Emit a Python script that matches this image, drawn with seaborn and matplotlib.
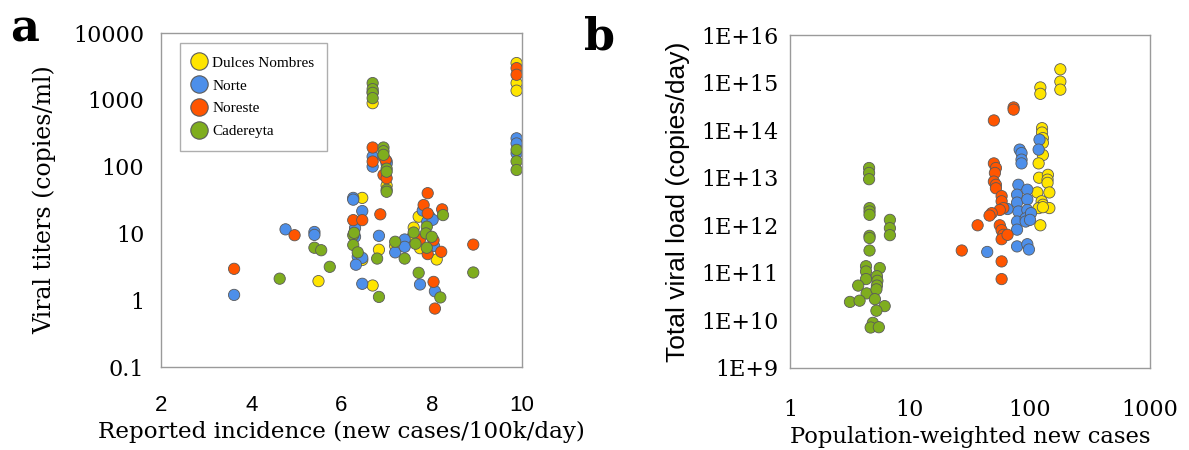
import numpy as np
import pandas as pd
import matplotlib
matplotlib.use("Agg")
import matplotlib.pyplot as plt
import matplotlib.ticker as mticker
import seaborn as sns

# ---------------- data ----------------
sites = ["Dulces Nombres", "Norte", "Noreste", "Cadereyta"]
colors = ["#FFE500", "#4D8FEA", "#FF5500", "#7FAD1E"]

# panel a: reported incidence vs viral titers
a_dn_x = [5.49, 6.46, 6.46, 6.69, 6.83, 6.69, 7.0, 7.19, 7.6, 7.58, 7.71, 7.74, 8.11, 9.88, 9.88, 9.88]
a_dn_y = [1.93, 34, 4.0, 1.66, 5.7, 890, 52, 6.5, 12.2, 9.0, 17.8, 6.0, 4.07, 3550, 1780, 1370]

a_no_x = [3.62, 4.76, 5.40, 5.40, 6.26, 6.26, 6.46, 6.30, 6.30, 6.36, 6.46, 6.32, 6.46, 6.69, 6.69,
          6.83, 7.0, 7.0, 7.19, 7.40, 7.40, 7.8, 7.95, 7.9, 8.02, 7.74, 8.07, 8.05, 9.88, 9.88, 9.88]
a_no_y = [1.2, 11.5, 10.5, 9.5, 34, 32, 21.6, 12, 8.9, 4.5, 4.3, 3.4, 1.76, 141, 100,
          9.2, 120, 110, 5.2, 8.1, 6.3, 22, 17.8, 15, 16, 1.72, 1.36, 6.5, 265, 222, 158]

a_ne_x = [3.62, 4.96, 6.26, 6.46, 6.86, 6.69, 6.69, 6.69, 6.93, 6.98, 6.93, 7.0, 7.82, 7.91, 7.91,
          7.74, 7.91, 8.04, 8.04, 8.07, 8.21, 8.23, 8.92, 9.88, 9.88]
a_ne_y = [2.95, 9.4, 15.8, 15.8, 19.3, 193, 119, 1300, 141, 125, 75, 67, 26.6, 40, 19.9,
          8.1, 4.9, 7.9, 1.88, 0.75, 5.3, 22.9, 6.8, 2980, 2370]

a_ca_x = [4.63, 5.40, 5.55, 5.74, 6.26, 6.28, 6.26, 6.36, 6.83, 6.79, 6.69, 6.69, 6.69, 6.69, 6.93,
          6.93, 6.93, 7.0, 7.0, 7.0, 7.0, 7.19, 7.40, 7.6, 7.64, 7.89, 7.87, 7.89, 8.0, 7.71,
          8.19, 8.25, 8.92, 9.88, 9.88, 9.88]
a_ca_y = [2.1, 6.1, 5.6, 3.16, 9.4, 10.2, 6.7, 5.2, 1.12, 4.2, 1780, 1445, 1270, 1060, 193,
          170, 150, 93, 84, 45, 42, 7.5, 4.2, 10.3, 7.0, 12.6, 10.0, 6.1, 8.9, 2.57,
          1.1, 18.8, 2.6, 178, 120, 89]

# panel b: population-weighted new cases vs total viral load
b_dn_x = [179, 179, 179, 122, 122, 126, 126, 128, 128, 128, 118, 119, 141, 140, 140, 115, 145,
          125, 128, 118, 145, 128, 122]
b_dn_y = [1.9e15, 1.05e15, 7.1e14, 7.9e14, 5.8e14, 1.1e14, 8.9e13, 6.8e13, 5.4e13, 3.0e13, 2.0e13,
          1.0e13, 1.15e13, 9.1e12, 7.8e12, 4.9e12, 4.9e12, 3.2e12, 2.7e12, 2.3e12, 2.3e12, 2.4e12, 1.0e12]

b_no_x = [80, 78, 78, 80, 78, 78, 82, 85, 85, 85, 95, 95, 95, 92, 65, 120, 118, 78, 95, 98, 44,
          92, 102, 100]
b_no_y = [7.1e12, 4.4e12, 3.0e12, 1.95e12, 1.2e12, 8.1e11, 3.9e13, 3.3e13, 2.4e13, 2.0e13, 5.6e12,
          3.5e12, 2.1e12, 1.4e12, 2.2e12, 6.3e13, 3.9e13, 3.6e11, 4.0e11, 3.1e11, 2.75e11,
          1.2e12, 1.8e12, 1.3e12]

b_ne_x = [73, 73, 50, 50, 52, 51, 50, 52, 52, 58, 58, 60, 56, 48, 46, 36.6, 56, 58, 60, 58, 65,
          27, 58, 58]
b_ne_y = [3.0e14, 2.7e14, 1.6e14, 2.0e13, 1.6e13, 1.26e13, 8.3e12, 7.1e12, 6.0e12, 4.1e12, 3.2e12,
          2.3e12, 2.1e12, 1.8e12, 1.6e12, 1.0e12, 1.0e12, 7.9e11, 6.3e11, 5.1e11, 6.3e11,
          2.95e11, 1.74e11, 7.4e10]

b_ca_x = [4.56, 4.56, 4.56, 4.6, 4.6, 4.6, 4.6, 4.6, 4.6, 6.8, 6.8, 6.8, 4.3, 4.3, 5.6, 4.3, 3.7,
          5.3, 5.35, 5.3, 4.35, 5.25, 3.16, 3.8, 5.1, 6.15, 5.25, 4.9, 4.7, 5.5]
b_ca_y = [1.6e13, 1.26e13, 9.3e12, 2.3e12, 1.95e12, 1.66e12, 6.0e11, 5.4e11, 2.95e11, 1.3e12,
          8.7e11, 6.2e11, 1.38e11, 1.07e11, 1.26e11, 7.4e10, 5.4e10, 8.5e10, 6.8e10, 5.4e10,
          3.7e10, 4.5e10, 2.45e10, 2.6e10, 2.8e10, 2.0e10, 1.6e10, 8.9e9, 7.1e9, 7.2e9]

df_a = pd.concat([
    pd.DataFrame({"x": a_dn_x, "y": a_dn_y, "site": sites[0]}),
    pd.DataFrame({"x": a_no_x, "y": a_no_y, "site": sites[1]}),
    pd.DataFrame({"x": a_ne_x, "y": a_ne_y, "site": sites[2]}),
    pd.DataFrame({"x": a_ca_x, "y": a_ca_y, "site": sites[3]}),
], ignore_index=True)
df_b = pd.concat([
    pd.DataFrame({"x": b_dn_x, "y": b_dn_y, "site": sites[0]}),
    pd.DataFrame({"x": b_no_x, "y": b_no_y, "site": sites[1]}),
    pd.DataFrame({"x": b_ne_x, "y": b_ne_y, "site": sites[2]}),
    pd.DataFrame({"x": b_ca_x, "y": b_ca_y, "site": sites[3]}),
], ignore_index=True)

a_xticks = [2, 4, 6, 8, 10]
a_yticks = [0.1, 1, 10, 100, 1000, 10000]
a_yticklabels = ["0.1", "1", "10", "100", "1000", "10000"]
b_xticks = [1, 10, 100, 1000]
b_xticklabels = ["1", "10", "100", "1000"]
b_yticks = [1e9, 1e10, 1e11, 1e12, 1e13, 1e14, 1e15, 1e16]
b_yticklabels = ["1E+9", "1E+10", "1E+11", "1E+12", "1E+13", "1E+14", "1E+15", "1E+16"]

# ---------------- style ----------------
sns.set_style("white")
plt.rcParams["font.family"] = ["DejaVu Serif"]
plt.rcParams["text.color"] = "black"
plt.rcParams["axes.labelcolor"] = "black"
plt.rcParams["xtick.color"] = "black"
plt.rcParams["ytick.color"] = "black"
SERIF = "DejaVu Serif"
SANS = "Liberation Sans"
palette = dict(zip(sites, colors))
GRAY = "#9a9a9a"

fig = plt.figure(figsize=(11.89, 4.5), dpi=100)
ax_a = fig.add_axes([161/1189, 83/450, 361/1189, 334/450])
ax_b = fig.add_axes([790/1189, 82/450, 360/1189, 333/450])

sc_kw = dict(s=66, edgecolor="#5a5a5a", linewidth=0.6, alpha=1)
sns.scatterplot(data=df_a, x="x", y="y", hue="site", hue_order=sites, palette=palette,
                ax=ax_a, legend=True, **sc_kw)
sns.scatterplot(data=df_b, x="x", y="y", hue="site", hue_order=sites, palette=palette,
                ax=ax_b, legend=False, **sc_kw)

for ax in (ax_a, ax_b):
    for sp in ax.spines.values():
        sp.set_color(GRAY)
        sp.set_linewidth(1.0)
    ax.set_xlabel("")
    ax.set_ylabel("")

# panel a axes
ax_a.set_yscale("log")
ax_a.set_xlim(2, 10)
ax_a.set_ylim(0.1, 10000)
ax_a.set_xticks(a_xticks)
ax_a.set_xticklabels([str(t) for t in a_xticks], family=SANS, fontsize=16)
ax_a.yaxis.set_major_locator(mticker.FixedLocator(a_yticks))
ax_a.yaxis.set_minor_locator(mticker.NullLocator())
ax_a.set_yticklabels(a_yticklabels, family=SERIF, fontsize=16)
ax_a.tick_params(axis="both", direction="in", length=8, width=1, color=GRAY, labelcolor="black")
ax_a.tick_params(axis="x", pad=20)
ax_a.tick_params(axis="y", pad=12)
ax_a.set_xlabel("Reported incidence (new cases/100k/day)", family=SERIF, fontsize=16.6, labelpad=4)
ax_a.set_ylabel("Viral titers (copies/ml)", family=SERIF, fontsize=17, labelpad=12)

# panel b axes
ax_b.set_xscale("log")
ax_b.set_yscale("log")
ax_b.set_xlim(1, 1000)
ax_b.set_ylim(1e9, 1e16)
ax_b.xaxis.set_major_locator(mticker.FixedLocator(b_xticks))
ax_b.xaxis.set_minor_locator(mticker.NullLocator())
ax_b.yaxis.set_major_locator(mticker.FixedLocator(b_yticks))
ax_b.yaxis.set_minor_locator(mticker.NullLocator())
ax_b.set_xticklabels(b_xticklabels, family=SERIF, fontsize=16)
ax_b.set_yticklabels(b_yticklabels, family=SERIF, fontsize=16)
ax_b.tick_params(axis="both", direction="in", length=8, width=1, color=GRAY, labelcolor="black")
ax_b.tick_params(axis="x", pad=22)
ax_b.tick_params(axis="y", pad=8)
ax_b.set_xlabel("Population-weighted new cases", family=SERIF, fontsize=16.3, labelpad=4)
ax_b.set_ylabel("Total viral load (copies/day)", family=SANS, fontsize=19, labelpad=8)

# legend
handles, labels = ax_a.get_legend_handles_labels()
for h in handles:
    try:
        h.set_markersize(12.5)
        h.set_markeredgewidth(0.8)
    except Exception:
        pass
leg = ax_a.legend(handles=handles, labels=labels, loc="upper left",
                  bbox_to_anchor=(0.053, 0.97), borderaxespad=0, frameon=True,
                  fancybox=False, shadow=False, prop={"family": "Liberation Serif", "size": 11},
                  handletextpad=0.45, labelspacing=0.6, borderpad=0.85,
                  handlelength=0.8)
leg.get_frame().set_edgecolor(GRAY)
leg.get_frame().set_linewidth(1.0)

# panel letters
fig.text(10/1189, 1 - 42/450, "a", family=SERIF, fontweight="bold", fontsize=32,
         ha="left", va="baseline")
fig.text(584/1189, 1 - 49/450, "b", family=SERIF, fontweight="bold", fontsize=32,
         ha="left", va="baseline")

fig.savefig("out.png", dpi=100)
